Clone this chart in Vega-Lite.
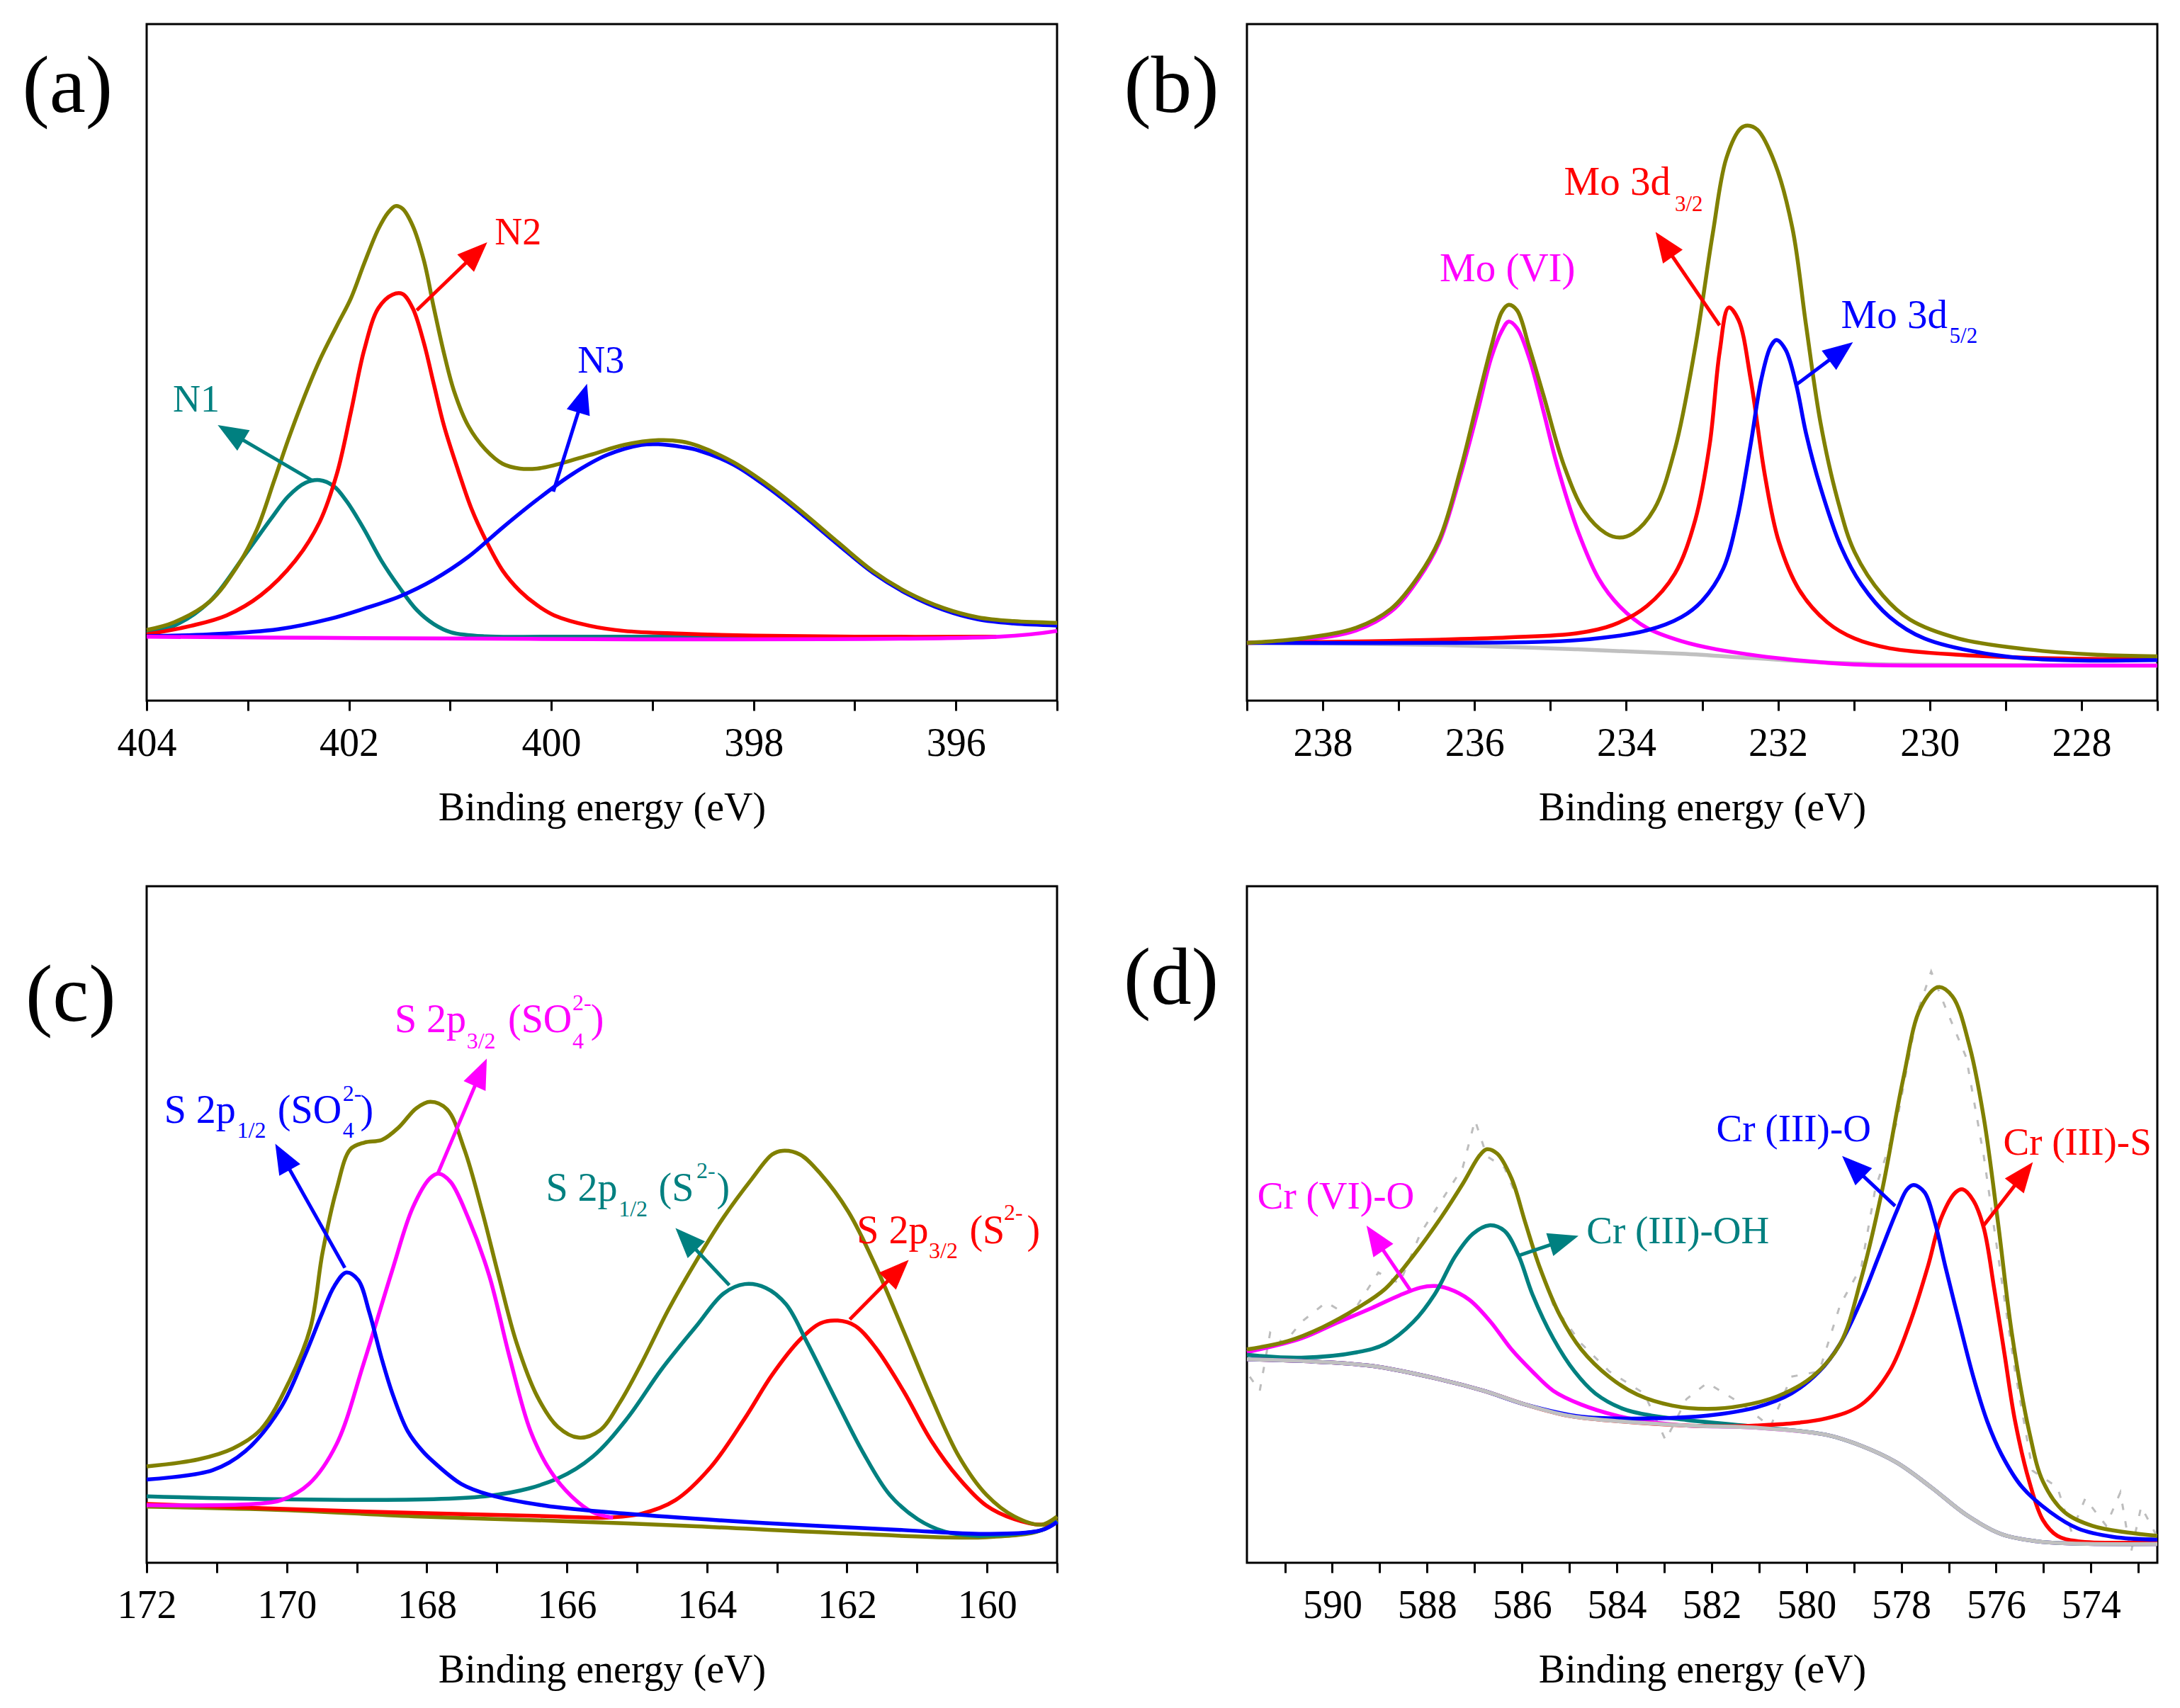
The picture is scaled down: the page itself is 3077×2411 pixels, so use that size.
{
  "$schema": "https://vega.github.io/schema/vega-lite/v6.json",
  "description": "XPS high-resolution spectra with peak fits: (a) N 1s, (b) Mo 3d, (c) S 2p, (d) Cr 2p.",
  "padding": {"left": 29, "top": 32, "right": 5, "bottom": 5},
  "background": "white",
  "bounds": "flush",
  "columns": 2,
  "spacing": {"row": 262, "column": 268},
  "resolve": {"scale": {"x": "independent", "y": "independent", "color": "independent"}},
  "datasets": {
    "a_lines": [
      {"series": "N1", "x": 404.0, "y": 10.0}, {"series": "N1", "x": 403.73, "y": 11.06}, {"series": "N1", "x": 403.38, "y": 14.6}, {"series": "N1", "x": 403.04, "y": 21.3},
      {"series": "N1", "x": 402.77, "y": 26.9}, {"series": "N1", "x": 402.6, "y": 30.2}, {"series": "N1", "x": 402.43, "y": 32.2}, {"series": "N1", "x": 402.29, "y": 32.6},
      {"series": "N1", "x": 402.15, "y": 31.7}, {"series": "N1", "x": 402.02, "y": 29.4}, {"series": "N1", "x": 401.85, "y": 25.3}, {"series": "N1", "x": 401.68, "y": 20.7},
      {"series": "N1", "x": 401.5, "y": 16.7}, {"series": "N1", "x": 401.33, "y": 13.4}, {"series": "N1", "x": 401.16, "y": 11.3}, {"series": "N1", "x": 400.99, "y": 10.1},
      {"series": "N1", "x": 400.65, "y": 9.5}, {"series": "N1", "x": 400.0, "y": 9.45}, {"series": "N1", "x": 397.0, "y": 9.45},
      {"series": "N2", "x": 404.0, "y": 9.79}, {"series": "N2", "x": 403.56, "y": 11.06}, {"series": "N2", "x": 403.21, "y": 12.6}, {"series": "N2", "x": 402.87, "y": 15.6},
      {"series": "N2", "x": 402.53, "y": 20.7}, {"series": "N2", "x": 402.29, "y": 26.4}, {"series": "N2", "x": 402.12, "y": 33.5}, {"series": "N2", "x": 401.98, "y": 42.7},
      {"series": "N2", "x": 401.85, "y": 51.8}, {"series": "N2", "x": 401.71, "y": 58.0}, {"series": "N2", "x": 401.57, "y": 60.0}, {"series": "N2", "x": 401.47, "y": 60.1},
      {"series": "N2", "x": 401.37, "y": 58.0}, {"series": "N2", "x": 401.26, "y": 52.9}, {"series": "N2", "x": 401.16, "y": 46.7}, {"series": "N2", "x": 401.06, "y": 40.6},
      {"series": "N2", "x": 400.92, "y": 34.0}, {"series": "N2", "x": 400.79, "y": 28.4}, {"series": "N2", "x": 400.65, "y": 23.8}, {"series": "N2", "x": 400.48, "y": 19.2},
      {"series": "N2", "x": 400.31, "y": 16.2}, {"series": "N2", "x": 400.14, "y": 14.1}, {"series": "N2", "x": 399.97, "y": 12.6}, {"series": "N2", "x": 399.62, "y": 11.06},
      {"series": "N2", "x": 399.28, "y": 10.3}, {"series": "N2", "x": 398.71, "y": 9.9}, {"series": "N2", "x": 398.0, "y": 9.6}, {"series": "N2", "x": 397.0, "y": 9.45}, {"series": "N2", "x": 395.6, "y": 9.45},
      {"series": "N3", "x": 404.0, "y": 9.53}, {"series": "N3", "x": 403.38, "y": 9.79}, {"series": "N3", "x": 402.7, "y": 10.55}, {"series": "N3", "x": 402.19, "y": 12.08},
      {"series": "N3", "x": 401.85, "y": 13.6}, {"series": "N3", "x": 401.5, "y": 15.4}, {"series": "N3", "x": 401.16, "y": 17.9}, {"series": "N3", "x": 400.82, "y": 21.25},
      {"series": "N3", "x": 400.48, "y": 25.6}, {"series": "N3", "x": 400.14, "y": 29.7}, {"series": "N3", "x": 399.79, "y": 33.5}, {"series": "N3", "x": 399.45, "y": 36.3},
      {"series": "N3", "x": 399.11, "y": 37.8}, {"series": "N3", "x": 398.94, "y": 37.9}, {"series": "N3", "x": 398.71, "y": 37.5}, {"series": "N3", "x": 398.55, "y": 37.0},
      {"series": "N3", "x": 398.2, "y": 34.9}, {"series": "N3", "x": 397.85, "y": 31.4}, {"series": "N3", "x": 397.51, "y": 27.4}, {"series": "N3", "x": 397.16, "y": 23.0},
      {"series": "N3", "x": 396.82, "y": 18.9}, {"series": "N3", "x": 396.47, "y": 15.7}, {"series": "N3", "x": 396.12, "y": 13.4}, {"series": "N3", "x": 395.78, "y": 12.0},
      {"series": "N3", "x": 395.43, "y": 11.4}, {"series": "N3", "x": 395.0, "y": 11.1},
      {"series": "Background", "x": 404.0, "y": 9.45}, {"series": "Background", "x": 395.57, "y": 9.45}, {"series": "Background", "x": 395.0, "y": 10.3},
      {"series": "Envelope", "x": 404.0, "y": 10.45}, {"series": "Envelope", "x": 403.73, "y": 11.57}, {"series": "Envelope", "x": 403.38, "y": 14.6}, {"series": "Envelope", "x": 403.11, "y": 19.7},
      {"series": "Envelope", "x": 402.91, "y": 25.3}, {"series": "Envelope", "x": 402.74, "y": 32.5}, {"series": "Envelope", "x": 402.6, "y": 38.6}, {"series": "Envelope", "x": 402.46, "y": 44.2},
      {"series": "Envelope", "x": 402.29, "y": 50.3}, {"series": "Envelope", "x": 402.12, "y": 55.4}, {"series": "Envelope", "x": 401.98, "y": 59.5}, {"series": "Envelope", "x": 401.85, "y": 64.6},
      {"series": "Envelope", "x": 401.71, "y": 69.7}, {"series": "Envelope", "x": 401.61, "y": 72.2}, {"series": "Envelope", "x": 401.54, "y": 73.1}, {"series": "Envelope", "x": 401.47, "y": 72.7},
      {"series": "Envelope", "x": 401.37, "y": 70.2}, {"series": "Envelope", "x": 401.26, "y": 65.1}, {"series": "Envelope", "x": 401.16, "y": 58.0}, {"series": "Envelope", "x": 401.06, "y": 51.3},
      {"series": "Envelope", "x": 400.96, "y": 45.7}, {"series": "Envelope", "x": 400.82, "y": 40.6}, {"series": "Envelope", "x": 400.65, "y": 37.1}, {"series": "Envelope", "x": 400.48, "y": 35.0},
      {"series": "Envelope", "x": 400.31, "y": 34.3}, {"series": "Envelope", "x": 400.14, "y": 34.3}, {"series": "Envelope", "x": 399.97, "y": 34.8}, {"series": "Envelope", "x": 399.62, "y": 36.3},
      {"series": "Envelope", "x": 399.28, "y": 37.8}, {"series": "Envelope", "x": 398.94, "y": 38.5}, {"series": "Envelope", "x": 398.71, "y": 38.3}, {"series": "Envelope", "x": 398.55, "y": 37.65},
      {"series": "Envelope", "x": 398.2, "y": 35.24}, {"series": "Envelope", "x": 397.85, "y": 31.78}, {"series": "Envelope", "x": 397.51, "y": 27.76}, {"series": "Envelope", "x": 397.16, "y": 23.33},
      {"series": "Envelope", "x": 396.82, "y": 19.15}, {"series": "Envelope", "x": 396.47, "y": 15.93}, {"series": "Envelope", "x": 396.12, "y": 13.68}, {"series": "Envelope", "x": 395.78, "y": 12.31},
      {"series": "Envelope", "x": 395.43, "y": 11.75}, {"series": "Envelope", "x": 395.0, "y": 11.5}
    ],
    "a_text": [
      {"series": "N1", "label": "N1", "x": 403.74, "y": 42.7},
      {"series": "N2", "label": "N2", "x": 400.56, "y": 67.4},
      {"series": "N3", "label": "N3", "x": 399.74, "y": 48.5}
    ],
    "a_arrows": [
      {"series": "N1", "x": 402.36, "y": 32.5, "x2": 403.17, "y2": 39.6},
      {"series": "N2", "x": 401.33, "y": 57.7, "x2": 400.74, "y2": 66.2},
      {"series": "N3", "x": 399.98, "y": 30.9, "x2": 399.69, "y2": 44.7}
    ],
    "a_heads": [
      {"series": "N1", "x": 403.17, "y": 39.6, "angle": 301},
      {"series": "N2", "x": 400.74, "y": 66.2, "angle": 46},
      {"series": "N3", "x": 399.69, "y": 44.7, "angle": 17}
    ],
    "a_tag": [{"label": "(a)", "x": 405.23, "y": 90.7}],

    "b_lines": [
      {"series": "Background", "x": 239.0, "y": 8.54}, {"series": "Background", "x": 236.46, "y": 8.22}, {"series": "Background", "x": 234.64, "y": 7.58}, {"series": "Background", "x": 233.27, "y": 6.94},
      {"series": "Background", "x": 232.36, "y": 6.3}, {"series": "Background", "x": 231.44, "y": 5.67}, {"series": "Background", "x": 230.53, "y": 5.35}, {"series": "Background", "x": 227.0, "y": 5.19},
      {"series": "Mo (VI)", "x": 239.0, "y": 8.54}, {"series": "Mo (VI)", "x": 238.29, "y": 8.94}, {"series": "Mo (VI)", "x": 237.56, "y": 10.38}, {"series": "Mo (VI)", "x": 237.1, "y": 13.17},
      {"series": "Mo (VI)", "x": 236.74, "y": 17.96}, {"series": "Mo (VI)", "x": 236.46, "y": 23.54}, {"series": "Mo (VI)", "x": 236.19, "y": 33.12}, {"series": "Mo (VI)", "x": 235.96, "y": 42.7},
      {"series": "Mo (VI)", "x": 235.78, "y": 50.68}, {"series": "Mo (VI)", "x": 235.64, "y": 54.67}, {"series": "Mo (VI)", "x": 235.55, "y": 56.03}, {"series": "Mo (VI)", "x": 235.44, "y": 55.07},
      {"series": "Mo (VI)", "x": 235.28, "y": 50.68}, {"series": "Mo (VI)", "x": 235.09, "y": 42.7}, {"series": "Mo (VI)", "x": 234.91, "y": 34.72}, {"series": "Mo (VI)", "x": 234.64, "y": 25.14},
      {"series": "Mo (VI)", "x": 234.36, "y": 17.96}, {"series": "Mo (VI)", "x": 234.09, "y": 13.97}, {"series": "Mo (VI)", "x": 233.73, "y": 10.77}, {"series": "Mo (VI)", "x": 233.27, "y": 8.78},
      {"series": "Mo (VI)", "x": 232.81, "y": 7.58}, {"series": "Mo (VI)", "x": 231.9, "y": 6.15}, {"series": "Mo (VI)", "x": 230.99, "y": 5.35}, {"series": "Mo (VI)", "x": 229.16, "y": 5.19},
      {"series": "Mo (VI)", "x": 227.0, "y": 5.19},
      {"series": "Mo 3d3/2", "x": 239.0, "y": 8.54}, {"series": "Mo 3d3/2", "x": 237.38, "y": 8.78}, {"series": "Mo 3d3/2", "x": 235.55, "y": 9.34}, {"series": "Mo 3d3/2", "x": 234.64, "y": 9.98},
      {"series": "Mo 3d3/2", "x": 234.18, "y": 11.17}, {"series": "Mo 3d3/2", "x": 233.73, "y": 13.97}, {"series": "Mo 3d3/2", "x": 233.36, "y": 18.76}, {"series": "Mo 3d3/2", "x": 233.09, "y": 26.74},
      {"series": "Mo 3d3/2", "x": 232.9, "y": 37.91}, {"series": "Mo 3d3/2", "x": 232.77, "y": 51.48}, {"series": "Mo 3d3/2", "x": 232.65, "y": 58.1}, {"series": "Mo 3d3/2", "x": 232.52, "y": 56.26},
      {"series": "Mo 3d3/2", "x": 232.36, "y": 47.49}, {"series": "Mo 3d3/2", "x": 232.17, "y": 33.12}, {"series": "Mo 3d3/2", "x": 231.99, "y": 23.54}, {"series": "Mo 3d3/2", "x": 231.72, "y": 16.36},
      {"series": "Mo 3d3/2", "x": 231.35, "y": 11.57}, {"series": "Mo 3d3/2", "x": 230.99, "y": 9.18}, {"series": "Mo 3d3/2", "x": 230.53, "y": 7.74}, {"series": "Mo 3d3/2", "x": 229.62, "y": 6.78},
      {"series": "Mo 3d3/2", "x": 228.25, "y": 6.22}, {"series": "Mo 3d3/2", "x": 227.0, "y": 6.15},
      {"series": "Mo 3d5/2", "x": 239.0, "y": 8.54}, {"series": "Mo 3d5/2", "x": 236.46, "y": 8.54}, {"series": "Mo 3d5/2", "x": 234.64, "y": 8.94}, {"series": "Mo 3d5/2", "x": 233.73, "y": 10.38},
      {"series": "Mo 3d5/2", "x": 233.27, "y": 12.37}, {"series": "Mo 3d5/2", "x": 233.0, "y": 14.76}, {"series": "Mo 3d5/2", "x": 232.72, "y": 19.55}, {"series": "Mo 3d5/2", "x": 232.54, "y": 26.74},
      {"series": "Mo 3d5/2", "x": 232.36, "y": 37.91}, {"series": "Mo 3d5/2", "x": 232.22, "y": 47.49}, {"series": "Mo 3d5/2", "x": 232.1, "y": 52.27}, {"series": "Mo 3d5/2", "x": 232.02, "y": 53.31},
      {"series": "Mo 3d5/2", "x": 231.9, "y": 51.88}, {"series": "Mo 3d5/2", "x": 231.76, "y": 46.69}, {"series": "Mo 3d5/2", "x": 231.63, "y": 39.5}, {"series": "Mo 3d5/2", "x": 231.44, "y": 31.52},
      {"series": "Mo 3d5/2", "x": 231.17, "y": 22.75}, {"series": "Mo 3d5/2", "x": 230.9, "y": 17.16}, {"series": "Mo 3d5/2", "x": 230.53, "y": 12.37}, {"series": "Mo 3d5/2", "x": 230.07, "y": 9.18},
      {"series": "Mo 3d5/2", "x": 229.16, "y": 6.78}, {"series": "Mo 3d5/2", "x": 228.25, "y": 5.99}, {"series": "Mo 3d5/2", "x": 227.0, "y": 5.99},
      {"series": "Envelope", "x": 239.0, "y": 8.54}, {"series": "Envelope", "x": 238.29, "y": 9.18}, {"series": "Envelope", "x": 237.56, "y": 10.77}, {"series": "Envelope", "x": 237.1, "y": 13.57},
      {"series": "Envelope", "x": 236.74, "y": 18.36}, {"series": "Envelope", "x": 236.46, "y": 23.94}, {"series": "Envelope", "x": 236.19, "y": 33.92}, {"series": "Envelope", "x": 235.96, "y": 44.29},
      {"series": "Envelope", "x": 235.78, "y": 52.27}, {"series": "Envelope", "x": 235.64, "y": 57.46}, {"series": "Envelope", "x": 235.55, "y": 58.5}, {"series": "Envelope", "x": 235.44, "y": 57.7},
      {"series": "Envelope", "x": 235.28, "y": 52.27}, {"series": "Envelope", "x": 235.09, "y": 45.09}, {"series": "Envelope", "x": 234.82, "y": 34.72}, {"series": "Envelope", "x": 234.55, "y": 27.93},
      {"series": "Envelope", "x": 234.27, "y": 24.74}, {"series": "Envelope", "x": 234.09, "y": 24.1}, {"series": "Envelope", "x": 233.91, "y": 24.74}, {"series": "Envelope", "x": 233.63, "y": 28.33},
      {"series": "Envelope", "x": 233.36, "y": 37.11}, {"series": "Envelope", "x": 233.09, "y": 52.27}, {"series": "Envelope", "x": 232.86, "y": 69.03}, {"series": "Envelope", "x": 232.68, "y": 80.21},
      {"series": "Envelope", "x": 232.49, "y": 84.6}, {"series": "Envelope", "x": 232.4, "y": 85.0}, {"series": "Envelope", "x": 232.27, "y": 84.36}, {"series": "Envelope", "x": 232.04, "y": 79.41},
      {"series": "Envelope", "x": 231.81, "y": 69.83}, {"series": "Envelope", "x": 231.63, "y": 55.47}, {"series": "Envelope", "x": 231.44, "y": 41.1}, {"series": "Envelope", "x": 231.22, "y": 29.93},
      {"series": "Envelope", "x": 230.99, "y": 21.95}, {"series": "Envelope", "x": 230.62, "y": 15.56}, {"series": "Envelope", "x": 230.26, "y": 11.97}, {"series": "Envelope", "x": 229.62, "y": 9.18},
      {"series": "Envelope", "x": 228.71, "y": 7.58}, {"series": "Envelope", "x": 227.79, "y": 6.78}, {"series": "Envelope", "x": 227.0, "y": 6.54}
    ],
    "b_text": [
      {"series": "Mo (VI)", "part": "main", "label": "Mo (VI)", "x": 236.46, "y": 62.0},
      {"series": "Mo 3d3/2", "part": "main", "label": "Mo 3d", "x": 234.82, "y": 74.78},
      {"series": "Mo 3d3/2", "part": "sub", "label": "3/2", "x": 233.36, "y": 72.39},
      {"series": "Mo 3d5/2", "part": "main", "label": "Mo 3d", "x": 231.17, "y": 55.07},
      {"series": "Mo 3d5/2", "part": "sub", "label": "5/2", "x": 229.74, "y": 52.91}
    ],
    "b_arrows": [
      {"series": "Mo 3d3/2", "x": 232.77, "y": 55.47, "x2": 233.5, "y2": 67.44},
      {"series": "Mo 3d5/2", "x": 231.76, "y": 46.69, "x2": 231.17, "y2": 51.64}
    ],
    "b_heads": [
      {"series": "Mo 3d3/2", "x": 233.5, "y": 67.44, "angle": 325},
      {"series": "Mo 3d5/2", "x": 231.17, "y": 51.64, "angle": 53}
    ],
    "b_tag": [{"label": "(b)", "x": 240.62, "y": 90.7}],

    "c_lines": [
      {"series": "Background", "x": 172.0, "y": 8.29}, {"series": "Background", "x": 170.08, "y": 7.8}, {"series": "Background", "x": 168.1, "y": 6.84}, {"series": "Background", "x": 166.13, "y": 6.19},
      {"series": "Background", "x": 164.15, "y": 5.39}, {"series": "Background", "x": 162.18, "y": 4.42}, {"series": "Background", "x": 160.01, "y": 3.78}, {"series": "Background", "x": 159.22, "y": 4.83},
      {"series": "Background", "x": 159.0, "y": 6.44},
      {"series": "S 2p3/2 (S)", "x": 172.0, "y": 8.69}, {"series": "S 2p3/2 (S)", "x": 169.09, "y": 7.64}, {"series": "S 2p3/2 (S)", "x": 166.13, "y": 6.84}, {"series": "S 2p3/2 (S)", "x": 165.44, "y": 6.68},
      {"series": "S 2p3/2 (S)", "x": 164.94, "y": 7.24}, {"series": "S 2p3/2 (S)", "x": 164.45, "y": 9.25}, {"series": "S 2p3/2 (S)", "x": 163.95, "y": 14.08}, {"series": "S 2p3/2 (S)", "x": 163.46, "y": 21.32},
      {"series": "S 2p3/2 (S)", "x": 163.07, "y": 27.76}, {"series": "S 2p3/2 (S)", "x": 162.67, "y": 32.98}, {"series": "S 2p3/2 (S)", "x": 162.38, "y": 35.4}, {"series": "S 2p3/2 (S)", "x": 162.13, "y": 35.8},
      {"series": "S 2p3/2 (S)", "x": 161.88, "y": 35.0}, {"series": "S 2p3/2 (S)", "x": 161.59, "y": 31.78}, {"series": "S 2p3/2 (S)", "x": 161.19, "y": 25.34}, {"series": "S 2p3/2 (S)", "x": 160.8, "y": 18.1},
      {"series": "S 2p3/2 (S)", "x": 160.4, "y": 12.47}, {"series": "S 2p3/2 (S)", "x": 160.01, "y": 8.45}, {"series": "S 2p3/2 (S)", "x": 159.61, "y": 6.44}, {"series": "S 2p3/2 (S)", "x": 159.22, "y": 5.63},
      {"series": "S 2p3/2 (S)", "x": 159.0, "y": 6.19},
      {"series": "S 2p1/2 (S)", "x": 172.0, "y": 9.82}, {"series": "S 2p1/2 (S)", "x": 167.11, "y": 9.9}, {"series": "S 2p1/2 (S)", "x": 166.13, "y": 12.47}, {"series": "S 2p1/2 (S)", "x": 165.63, "y": 15.69},
      {"series": "S 2p1/2 (S)", "x": 165.14, "y": 21.32}, {"series": "S 2p1/2 (S)", "x": 164.65, "y": 28.56}, {"series": "S 2p1/2 (S)", "x": 164.15, "y": 35.0}, {"series": "S 2p1/2 (S)", "x": 163.76, "y": 39.82},
      {"series": "S 2p1/2 (S)", "x": 163.46, "y": 41.19}, {"series": "S 2p1/2 (S)", "x": 163.16, "y": 40.63}, {"series": "S 2p1/2 (S)", "x": 162.87, "y": 38.21}, {"series": "S 2p1/2 (S)", "x": 162.57, "y": 32.58},
      {"series": "S 2p1/2 (S)", "x": 162.18, "y": 24.54}, {"series": "S 2p1/2 (S)", "x": 161.78, "y": 16.49}, {"series": "S 2p1/2 (S)", "x": 161.39, "y": 10.06}, {"series": "S 2p1/2 (S)", "x": 160.99, "y": 6.44},
      {"series": "S 2p1/2 (S)", "x": 160.6, "y": 4.59}, {"series": "S 2p1/2 (S)", "x": 160.2, "y": 4.02}, {"series": "S 2p1/2 (S)", "x": 160.01, "y": 4.02}, {"series": "S 2p1/2 (S)", "x": 159.22, "y": 4.83},
      {"series": "S 2p1/2 (S)", "x": 159.0, "y": 6.2},
      {"series": "S 2p3/2 (SO4)", "x": 172.0, "y": 8.5}, {"series": "S 2p3/2 (SO4)", "x": 170.47, "y": 8.69}, {"series": "S 2p3/2 (SO4)", "x": 170.08, "y": 9.25}, {"series": "S 2p3/2 (SO4)", "x": 169.68, "y": 11.67},
      {"series": "S 2p3/2 (SO4)", "x": 169.29, "y": 17.5}, {"series": "S 2p3/2 (SO4)", "x": 168.9, "y": 29.5}, {"series": "S 2p3/2 (SO4)", "x": 168.5, "y": 43.0}, {"series": "S 2p3/2 (SO4)", "x": 168.2, "y": 52.5},
      {"series": "S 2p3/2 (SO4)", "x": 167.95, "y": 56.88}, {"series": "S 2p3/2 (SO4)", "x": 167.83, "y": 57.52}, {"series": "S 2p3/2 (SO4)", "x": 167.66, "y": 56.3}, {"series": "S 2p3/2 (SO4)", "x": 167.41, "y": 51.0},
      {"series": "S 2p3/2 (SO4)", "x": 167.11, "y": 42.5}, {"series": "S 2p3/2 (SO4)", "x": 166.82, "y": 30.5}, {"series": "S 2p3/2 (SO4)", "x": 166.52, "y": 19.5}, {"series": "S 2p3/2 (SO4)", "x": 166.23, "y": 13.5},
      {"series": "S 2p3/2 (SO4)", "x": 165.93, "y": 9.8}, {"series": "S 2p3/2 (SO4)", "x": 165.63, "y": 7.48}, {"series": "S 2p3/2 (SO4)", "x": 165.34, "y": 6.68},
      {"series": "S 2p1/2 (SO4)", "x": 172.0, "y": 12.31}, {"series": "S 2p1/2 (SO4)", "x": 171.06, "y": 13.68}, {"series": "S 2p1/2 (SO4)", "x": 170.59, "y": 16.5}, {"series": "S 2p1/2 (SO4)", "x": 170.08, "y": 23.0},
      {"series": "S 2p1/2 (SO4)", "x": 169.75, "y": 30.4}, {"series": "S 2p1/2 (SO4)", "x": 169.49, "y": 37.0}, {"series": "S 2p1/2 (SO4)", "x": 169.32, "y": 40.9}, {"series": "S 2p1/2 (SO4)", "x": 169.15, "y": 42.9},
      {"series": "S 2p1/2 (SO4)", "x": 168.98, "y": 41.8}, {"series": "S 2p1/2 (SO4)", "x": 168.82, "y": 37.0}, {"series": "S 2p1/2 (SO4)", "x": 168.65, "y": 30.4}, {"series": "S 2p1/2 (SO4)", "x": 168.48, "y": 24.7},
      {"series": "S 2p1/2 (SO4)", "x": 168.27, "y": 19.4}, {"series": "S 2p1/2 (SO4)", "x": 168.06, "y": 16.5}, {"series": "S 2p1/2 (SO4)", "x": 167.9, "y": 14.88}, {"series": "S 2p1/2 (SO4)", "x": 167.51, "y": 11.67},
      {"series": "S 2p1/2 (SO4)", "x": 167.11, "y": 10.06}, {"series": "S 2p1/2 (SO4)", "x": 166.32, "y": 8.45}, {"series": "S 2p1/2 (SO4)", "x": 165.14, "y": 7.24}, {"series": "S 2p1/2 (SO4)", "x": 163.16, "y": 5.87},
      {"series": "S 2p1/2 (SO4)", "x": 161.19, "y": 4.83}, {"series": "S 2p1/2 (SO4)", "x": 160.01, "y": 4.26}, {"series": "S 2p1/2 (SO4)", "x": 159.22, "y": 4.83}, {"series": "S 2p1/2 (SO4)", "x": 159.0, "y": 6.03},
      {"series": "Envelope", "x": 172.0, "y": 14.24}, {"series": "Envelope", "x": 171.26, "y": 15.29}, {"series": "Envelope", "x": 170.77, "y": 16.89}, {"series": "Envelope", "x": 170.37, "y": 19.71},
      {"series": "Envelope", "x": 169.96, "y": 26.9}, {"series": "Envelope", "x": 169.66, "y": 34.8}, {"series": "Envelope", "x": 169.49, "y": 45.75}, {"series": "Envelope", "x": 169.29, "y": 55.11},
      {"series": "Envelope", "x": 169.09, "y": 61.14}, {"series": "Envelope", "x": 168.89, "y": 62.11}, {"series": "Envelope", "x": 168.64, "y": 62.51}, {"series": "Envelope", "x": 168.4, "y": 64.36},
      {"series": "Envelope", "x": 168.15, "y": 67.18}, {"series": "Envelope", "x": 167.95, "y": 68.14}, {"series": "Envelope", "x": 167.71, "y": 67.02}, {"series": "Envelope", "x": 167.46, "y": 61.0},
      {"series": "Envelope", "x": 167.21, "y": 52.0}, {"series": "Envelope", "x": 166.97, "y": 42.24}, {"series": "Envelope", "x": 166.72, "y": 32.58}, {"series": "Envelope", "x": 166.42, "y": 24.54},
      {"series": "Envelope", "x": 166.13, "y": 20.11}, {"series": "Envelope", "x": 165.83, "y": 18.5}, {"series": "Envelope", "x": 165.53, "y": 19.55}, {"series": "Envelope", "x": 165.24, "y": 23.73},
      {"series": "Envelope", "x": 164.94, "y": 29.36}, {"series": "Envelope", "x": 164.55, "y": 37.41}, {"series": "Envelope", "x": 164.15, "y": 44.65}, {"series": "Envelope", "x": 163.76, "y": 51.09},
      {"series": "Envelope", "x": 163.36, "y": 56.72}, {"series": "Envelope", "x": 163.07, "y": 60.34}, {"series": "Envelope", "x": 162.92, "y": 60.9}, {"series": "Envelope", "x": 162.67, "y": 60.34},
      {"series": "Envelope", "x": 162.38, "y": 57.52}, {"series": "Envelope", "x": 161.98, "y": 51.89}, {"series": "Envelope", "x": 161.59, "y": 43.85}, {"series": "Envelope", "x": 161.19, "y": 34.19},
      {"series": "Envelope", "x": 160.8, "y": 24.54}, {"series": "Envelope", "x": 160.4, "y": 15.69}, {"series": "Envelope", "x": 160.01, "y": 10.06}, {"series": "Envelope", "x": 159.61, "y": 6.84},
      {"series": "Envelope", "x": 159.22, "y": 5.63}, {"series": "Envelope", "x": 159.0, "y": 6.84}
    ],
    "c_text": [
      {"series": "S 2p1/2 (SO4)", "part": "main", "label": "S 2p", "x": 171.75, "y": 65.0},
      {"series": "S 2p1/2 (SO4)", "part": "sub", "label": "1/2", "x": 170.71, "y": 62.85},
      {"series": "S 2p1/2 (SO4)", "part": "main", "label": "(SO", "x": 170.13, "y": 65.0},
      {"series": "S 2p1/2 (SO4)", "part": "sub", "label": "4", "x": 169.2, "y": 62.85},
      {"series": "S 2p1/2 (SO4)", "part": "sub", "label": "2-", "x": 169.2, "y": 68.3},
      {"series": "S 2p1/2 (SO4)", "part": "main", "label": ")", "x": 168.95, "y": 65.0},
      {"series": "S 2p3/2 (SO4)", "part": "main", "label": "S 2p", "x": 168.46, "y": 78.4},
      {"series": "S 2p3/2 (SO4)", "part": "sub", "label": "3/2", "x": 167.43, "y": 76.0},
      {"series": "S 2p3/2 (SO4)", "part": "main", "label": "(SO", "x": 166.84, "y": 78.4},
      {"series": "S 2p3/2 (SO4)", "part": "sub", "label": "4", "x": 165.92, "y": 76.0},
      {"series": "S 2p3/2 (SO4)", "part": "sub", "label": "2-", "x": 165.92, "y": 81.7},
      {"series": "S 2p3/2 (SO4)", "part": "main", "label": ")", "x": 165.66, "y": 78.4},
      {"series": "S 2p1/2 (S)", "part": "main", "label": "S 2p", "x": 166.3, "y": 53.5},
      {"series": "S 2p1/2 (S)", "part": "sub", "label": "1/2", "x": 165.26, "y": 51.25},
      {"series": "S 2p1/2 (S)", "part": "main", "label": "(S", "x": 164.69, "y": 53.5},
      {"series": "S 2p1/2 (S)", "part": "sub", "label": "2-", "x": 164.15, "y": 56.88},
      {"series": "S 2p1/2 (S)", "part": "main", "label": ")", "x": 163.86, "y": 53.5},
      {"series": "S 2p3/2 (S)", "part": "main", "label": "S 2p", "x": 161.86, "y": 47.22},
      {"series": "S 2p3/2 (S)", "part": "sub", "label": "3/2", "x": 160.83, "y": 45.05},
      {"series": "S 2p3/2 (S)", "part": "main", "label": "(S", "x": 160.25, "y": 47.22},
      {"series": "S 2p3/2 (S)", "part": "sub", "label": "2-", "x": 159.76, "y": 50.68},
      {"series": "S 2p3/2 (S)", "part": "main", "label": ")", "x": 159.43, "y": 47.22}
    ],
    "c_arrows": [
      {"series": "S 2p1/2 (SO4)", "x": 169.17, "y": 43.6, "x2": 170.06, "y2": 60.0},
      {"series": "S 2p3/2 (SO4)", "x": 167.84, "y": 57.6, "x2": 167.23, "y2": 72.5},
      {"series": "S 2p1/2 (S)", "x": 163.68, "y": 41.03, "x2": 164.3, "y2": 47.87},
      {"series": "S 2p3/2 (S)", "x": 161.96, "y": 35.96, "x2": 161.27, "y2": 43.2}
    ],
    "c_heads": [
      {"series": "S 2p1/2 (SO4)", "x": 170.06, "y": 60.0, "angle": 331},
      {"series": "S 2p3/2 (SO4)", "x": 167.23, "y": 72.5, "angle": 24},
      {"series": "S 2p1/2 (S)", "x": 164.3, "y": 47.87, "angle": 316},
      {"series": "S 2p3/2 (S)", "x": 161.27, "y": 43.2, "angle": 45}
    ],
    "c_tag": [{"label": "(c)", "x": 173.73, "y": 83.8}],

    "d_raw": [
      {"x": 591.74, "y": 27.5}, {"x": 591.53, "y": 25.4}, {"x": 591.31, "y": 34.0}, {"x": 591.02, "y": 32.4}, {"x": 590.65, "y": 35.6},
      {"x": 590.13, "y": 38.5}, {"x": 589.62, "y": 36.4}, {"x": 589.03, "y": 42.9}, {"x": 588.58, "y": 41.3}, {"x": 588.14, "y": 48.7},
      {"x": 587.7, "y": 53.5}, {"x": 587.25, "y": 58.4}, {"x": 586.99, "y": 65.4}, {"x": 586.74, "y": 60.1}, {"x": 586.37, "y": 58.4},
      {"x": 586.07, "y": 53.5}, {"x": 585.78, "y": 47.0}, {"x": 585.34, "y": 38.1}, {"x": 584.75, "y": 32.4}, {"x": 584.16, "y": 28.3},
      {"x": 583.42, "y": 25.0}, {"x": 582.97, "y": 18.1}, {"x": 582.53, "y": 24.2}, {"x": 582.09, "y": 26.6}, {"x": 581.35, "y": 23.4},
      {"x": 580.76, "y": 20.1}, {"x": 580.32, "y": 27.5}, {"x": 579.73, "y": 28.3}, {"x": 579.29, "y": 38.1}, {"x": 578.84, "y": 43.8},
      {"x": 578.55, "y": 55.2}, {"x": 578.1, "y": 65.0}, {"x": 577.66, "y": 81.3}, {"x": 577.37, "y": 87.4}, {"x": 577.07, "y": 82.1},
      {"x": 576.63, "y": 74.7}, {"x": 576.26, "y": 60.1}, {"x": 575.89, "y": 42.1}, {"x": 575.6, "y": 28.3}, {"x": 575.23, "y": 13.6},
      {"x": 574.71, "y": 11.2}, {"x": 574.41, "y": 4.6}, {"x": 574.12, "y": 9.5}, {"x": 573.68, "y": 5.5}, {"x": 573.38, "y": 10.4},
      {"x": 573.16, "y": 1.4}, {"x": 572.94, "y": 8.3}, {"x": 572.6, "y": 3.8}
    ],
    "d_lines": [
      {"series": "Cr (VI)-O", "x": 591.8, "y": 31.13}, {"series": "Cr (VI)-O", "x": 590.65, "y": 33.17}, {"series": "Cr (VI)-O", "x": 589.91, "y": 35.45}, {"series": "Cr (VI)-O", "x": 589.17, "y": 37.65},
      {"series": "Cr (VI)-O", "x": 588.58, "y": 39.53}, {"series": "Cr (VI)-O", "x": 588.14, "y": 40.67}, {"series": "Cr (VI)-O", "x": 587.84, "y": 40.91}, {"series": "Cr (VI)-O", "x": 587.55, "y": 40.51},
      {"series": "Cr (VI)-O", "x": 587.11, "y": 38.88}, {"series": "Cr (VI)-O", "x": 586.66, "y": 35.61}, {"series": "Cr (VI)-O", "x": 586.22, "y": 31.54}, {"series": "Cr (VI)-O", "x": 585.78, "y": 28.28},
      {"series": "Cr (VI)-O", "x": 585.34, "y": 25.43}, {"series": "Cr (VI)-O", "x": 584.75, "y": 23.39}, {"series": "Cr (VI)-O", "x": 584.01, "y": 21.76}, {"series": "Cr (VI)-O", "x": 583.27, "y": 20.78},
      {"series": "Cr (VI)-O", "x": 582.53, "y": 20.29}, {"series": "Cr (VI)-O", "x": 581.06, "y": 19.97}, {"series": "Cr (VI)-O", "x": 579.58, "y": 18.91}, {"series": "Cr (VI)-O", "x": 578.84, "y": 17.28},
      {"series": "Cr (VI)-O", "x": 578.1, "y": 14.83}, {"series": "Cr (VI)-O", "x": 577.37, "y": 11.17}, {"series": "Cr (VI)-O", "x": 576.63, "y": 7.09}, {"series": "Cr (VI)-O", "x": 575.89, "y": 4.24},
      {"series": "Cr (VI)-O", "x": 575.15, "y": 3.18}, {"series": "Cr (VI)-O", "x": 574.41, "y": 2.85}, {"series": "Cr (VI)-O", "x": 572.6, "y": 2.77},
      {"series": "Cr (III)-OH", "x": 591.8, "y": 30.73}, {"series": "Cr (III)-OH", "x": 590.65, "y": 30.32}, {"series": "Cr (III)-OH", "x": 589.47, "y": 31.13}, {"series": "Cr (III)-OH", "x": 588.88, "y": 32.36},
      {"series": "Cr (III)-OH", "x": 588.29, "y": 35.61}, {"series": "Cr (III)-OH", "x": 587.84, "y": 39.69}, {"series": "Cr (III)-OH", "x": 587.4, "y": 45.4}, {"series": "Cr (III)-OH", "x": 587.03, "y": 48.66},
      {"series": "Cr (III)-OH", "x": 586.69, "y": 49.88}, {"series": "Cr (III)-OH", "x": 586.37, "y": 49.06}, {"series": "Cr (III)-OH", "x": 586.07, "y": 45.4}, {"series": "Cr (III)-OH", "x": 585.78, "y": 39.69},
      {"series": "Cr (III)-OH", "x": 585.34, "y": 33.17}, {"series": "Cr (III)-OH", "x": 584.89, "y": 28.28}, {"series": "Cr (III)-OH", "x": 584.45, "y": 25.02}, {"series": "Cr (III)-OH", "x": 583.86, "y": 22.74},
      {"series": "Cr (III)-OH", "x": 583.27, "y": 21.76}, {"series": "Cr (III)-OH", "x": 582.53, "y": 21.11}, {"series": "Cr (III)-OH", "x": 581.06, "y": 20.1}, {"series": "Cr (III)-OH", "x": 579.58, "y": 18.91},
      {"series": "Cr (III)-OH", "x": 578.84, "y": 17.28}, {"series": "Cr (III)-OH", "x": 578.1, "y": 14.83}, {"series": "Cr (III)-OH", "x": 577.37, "y": 11.17}, {"series": "Cr (III)-OH", "x": 576.63, "y": 7.09},
      {"series": "Cr (III)-OH", "x": 575.89, "y": 4.24}, {"series": "Cr (III)-OH", "x": 575.15, "y": 3.18}, {"series": "Cr (III)-OH", "x": 574.41, "y": 2.85}, {"series": "Cr (III)-OH", "x": 572.6, "y": 2.77},
      {"series": "Cr (III)-S", "x": 591.8, "y": 30.07}, {"series": "Cr (III)-S", "x": 590.65, "y": 29.83}, {"series": "Cr (III)-S", "x": 589.17, "y": 29.1}, {"series": "Cr (III)-S", "x": 587.7, "y": 27.06},
      {"series": "Cr (III)-S", "x": 586.81, "y": 25.43}, {"series": "Cr (III)-S", "x": 585.93, "y": 23.39}, {"series": "Cr (III)-S", "x": 585.04, "y": 21.76},
      {"series": "Cr (III)-S", "x": 584.01, "y": 20.95}, {"series": "Cr (III)-S", "x": 582.53, "y": 20.29}, {"series": "Cr (III)-S", "x": 581.06, "y": 20.29}, {"series": "Cr (III)-S", "x": 579.58, "y": 21.35},
      {"series": "Cr (III)-S", "x": 578.84, "y": 23.39}, {"series": "Cr (III)-S", "x": 578.25, "y": 28.28}, {"series": "Cr (III)-S", "x": 577.81, "y": 35.61}, {"series": "Cr (III)-S", "x": 577.44, "y": 43.77},
      {"series": "Cr (III)-S", "x": 577.15, "y": 51.1}, {"series": "Cr (III)-S", "x": 576.85, "y": 54.77}, {"series": "Cr (III)-S", "x": 576.7, "y": 55.18}, {"series": "Cr (III)-S", "x": 576.48, "y": 53.55},
      {"series": "Cr (III)-S", "x": 576.26, "y": 49.47}, {"series": "Cr (III)-S", "x": 576.04, "y": 40.51}, {"series": "Cr (III)-S", "x": 575.82, "y": 30.73}, {"series": "Cr (III)-S", "x": 575.6, "y": 20.95},
      {"series": "Cr (III)-S", "x": 575.3, "y": 11.98}, {"series": "Cr (III)-S", "x": 575.01, "y": 6.28}, {"series": "Cr (III)-S", "x": 574.71, "y": 3.99}, {"series": "Cr (III)-S", "x": 574.27, "y": 3.18},
      {"series": "Cr (III)-S", "x": 572.6, "y": 3.02},
      {"series": "Cr (III)-O", "x": 591.8, "y": 30.07}, {"series": "Cr (III)-O", "x": 590.65, "y": 29.83}, {"series": "Cr (III)-O", "x": 589.17, "y": 29.1}, {"series": "Cr (III)-O", "x": 587.7, "y": 27.06},
      {"series": "Cr (III)-O", "x": 586.81, "y": 25.43}, {"series": "Cr (III)-O", "x": 585.93, "y": 23.39}, {"series": "Cr (III)-O", "x": 584.75, "y": 21.6}, {"series": "Cr (III)-O", "x": 583.27, "y": 21.35},
      {"series": "Cr (III)-O", "x": 582.09, "y": 21.76}, {"series": "Cr (III)-O", "x": 581.06, "y": 22.98}, {"series": "Cr (III)-O", "x": 580.32, "y": 25.02}, {"series": "Cr (III)-O", "x": 579.73, "y": 28.28},
      {"series": "Cr (III)-O", "x": 579.29, "y": 32.36}, {"series": "Cr (III)-O", "x": 578.84, "y": 38.88}, {"series": "Cr (III)-O", "x": 578.47, "y": 45.4}, {"series": "Cr (III)-O", "x": 578.1, "y": 51.91},
      {"series": "Cr (III)-O", "x": 577.88, "y": 55.18}, {"series": "Cr (III)-O", "x": 577.74, "y": 55.83}, {"series": "Cr (III)-O", "x": 577.51, "y": 54.77}, {"series": "Cr (III)-O", "x": 577.29, "y": 50.29},
      {"series": "Cr (III)-O", "x": 577.07, "y": 43.77}, {"series": "Cr (III)-O", "x": 576.78, "y": 35.61}, {"series": "Cr (III)-O", "x": 576.48, "y": 27.47}, {"series": "Cr (III)-O", "x": 576.19, "y": 20.95},
      {"series": "Cr (III)-O", "x": 575.89, "y": 16.06}, {"series": "Cr (III)-O", "x": 575.45, "y": 11.17}, {"series": "Cr (III)-O", "x": 574.86, "y": 7.5}, {"series": "Cr (III)-O", "x": 574.27, "y": 5.05},
      {"series": "Cr (III)-O", "x": 573.53, "y": 3.83}, {"series": "Cr (III)-O", "x": 572.6, "y": 3.42},
      {"series": "Background", "x": 591.8, "y": 30.07}, {"series": "Background", "x": 590.65, "y": 29.83}, {"series": "Background", "x": 589.17, "y": 29.1}, {"series": "Background", "x": 587.7, "y": 27.06},
      {"series": "Background", "x": 586.81, "y": 25.43}, {"series": "Background", "x": 585.93, "y": 23.39}, {"series": "Background", "x": 585.04, "y": 21.76}, {"series": "Background", "x": 584.01, "y": 20.95},
      {"series": "Background", "x": 582.53, "y": 20.29}, {"series": "Background", "x": 581.06, "y": 19.97}, {"series": "Background", "x": 579.58, "y": 18.91}, {"series": "Background", "x": 578.84, "y": 17.28},
      {"series": "Background", "x": 578.1, "y": 14.83}, {"series": "Background", "x": 577.37, "y": 11.17}, {"series": "Background", "x": 576.63, "y": 7.09}, {"series": "Background", "x": 575.89, "y": 4.24},
      {"series": "Background", "x": 575.15, "y": 3.18}, {"series": "Background", "x": 574.41, "y": 2.85}, {"series": "Background", "x": 572.6, "y": 2.77},
      {"series": "Envelope", "x": 591.8, "y": 31.54}, {"series": "Envelope", "x": 590.94, "y": 32.76}, {"series": "Envelope", "x": 590.21, "y": 34.8}, {"series": "Envelope", "x": 589.47, "y": 37.65},
      {"series": "Envelope", "x": 588.88, "y": 40.51}, {"series": "Envelope", "x": 588.29, "y": 45.4}, {"series": "Envelope", "x": 587.7, "y": 51.1}, {"series": "Envelope", "x": 587.25, "y": 55.99},
      {"series": "Envelope", "x": 586.89, "y": 60.23}, {"series": "Envelope", "x": 586.74, "y": 61.12}, {"series": "Envelope", "x": 586.52, "y": 60.47}, {"series": "Envelope", "x": 586.22, "y": 56.81},
      {"series": "Envelope", "x": 585.93, "y": 50.29}, {"series": "Envelope", "x": 585.63, "y": 43.77}, {"series": "Envelope", "x": 585.19, "y": 36.43}, {"series": "Envelope", "x": 584.75, "y": 31.54},
      {"series": "Envelope", "x": 584.16, "y": 27.47}, {"series": "Envelope", "x": 583.57, "y": 24.86}, {"series": "Envelope", "x": 582.83, "y": 23.23}, {"series": "Envelope", "x": 582.09, "y": 22.74},
      {"series": "Envelope", "x": 581.35, "y": 23.23}, {"series": "Envelope", "x": 580.61, "y": 24.61}, {"series": "Envelope", "x": 579.88, "y": 27.47}, {"series": "Envelope", "x": 579.29, "y": 32.36},
      {"series": "Envelope", "x": 578.84, "y": 42.14}, {"series": "Envelope", "x": 578.4, "y": 55.18}, {"series": "Envelope", "x": 577.96, "y": 71.48}, {"series": "Envelope", "x": 577.59, "y": 82.07},
      {"series": "Envelope", "x": 577.22, "y": 85.09}, {"series": "Envelope", "x": 576.92, "y": 83.7}, {"series": "Envelope", "x": 576.56, "y": 76.37}, {"series": "Envelope", "x": 576.26, "y": 65.77},
      {"series": "Envelope", "x": 575.96, "y": 50.29}, {"series": "Envelope", "x": 575.67, "y": 33.99}, {"series": "Envelope", "x": 575.3, "y": 19.32}, {"series": "Envelope", "x": 575.01, "y": 11.98},
      {"series": "Envelope", "x": 574.56, "y": 7.5}, {"series": "Envelope", "x": 573.97, "y": 5.46}, {"series": "Envelope", "x": 573.23, "y": 4.48}, {"series": "Envelope", "x": 572.6, "y": 3.99}
    ],
    "d_text": [
      {"series": "Cr (VI)-O", "label": "Cr (VI)-O", "x": 591.58, "y": 52.32},
      {"series": "Cr (III)-OH", "label": "Cr (III)-OH", "x": 584.64, "y": 47.19},
      {"series": "Cr (III)-O", "label": "Cr (III)-O", "x": 581.9, "y": 62.27},
      {"series": "Cr (III)-S", "label": "Cr (III)-S", "x": 575.85, "y": 60.31}
    ],
    "d_arrows": [
      {"series": "Cr (VI)-O", "x": 588.36, "y": 40.34, "x2": 589.1, "y2": 48.0},
      {"series": "Cr (III)-OH", "x": 586.07, "y": 45.4, "x2": 585.11, "y2": 47.68},
      {"series": "Cr (III)-O", "x": 578.13, "y": 52.73, "x2": 579.02, "y2": 58.6},
      {"series": "Cr (III)-S", "x": 576.26, "y": 49.88, "x2": 575.42, "y2": 57.46}
    ],
    "d_heads": [
      {"series": "Cr (VI)-O", "x": 589.1, "y": 48.0, "angle": 326},
      {"series": "Cr (III)-OH", "x": 585.11, "y": 47.68, "angle": 73},
      {"series": "Cr (III)-O", "x": 579.02, "y": 58.6, "angle": 314},
      {"series": "Cr (III)-S", "x": 575.42, "y": 57.46, "angle": 38}
    ],
    "d_tag": [{"label": "(d)", "x": 594.4, "y": 86.3}]
  },
  "concat": [
    {
      "width": 1285,
      "height": 955,
      "encoding": {
        "x": {"field": "x", "type": "quantitative", "scale": {"domain": [395, 404], "reverse": true, "nice": false, "zero": false},
          "axis": {"title": "Binding energy (eV)", "values": [395, 396, 397, 398, 399, 400, 401, 402, 403, 404], "labelExpr": "datum.value % 2 === 0 ? datum.label : ''"}},
        "y": {"field": "y", "type": "quantitative", "scale": {"domain": [0, 100], "nice": false, "zero": false}, "axis": null},
        "color": {"field": "series", "type": "nominal", "legend": null,
          "scale": {"domain": ["Background", "N1", "N2", "N3", "Envelope"], "range": ["#ff00ff", "#008080", "#ff0000", "#0000ff", "#808000"]}}
      },
      "layer": [
        {"data": {"name": "a_lines"}, "mark": {"type": "line", "interpolate": "catmull-rom", "strokeWidth": 5.5},
          "encoding": {"order": {"field": "x", "type": "quantitative", "sort": "descending"}}},
        {"data": {"name": "a_arrows"}, "mark": {"type": "rule", "strokeWidth": 5},
          "encoding": {"x2": {"field": "x2"}, "y2": {"field": "y2"}}},
        {"data": {"name": "a_heads"}, "mark": {"type": "point", "shape": "M0,-1L-0.8,1L0.8,1Z", "filled": true, "size": 1800, "opacity": 1},
          "encoding": {"angle": {"field": "angle", "type": "quantitative", "scale": null}}},
        {"data": {"name": "a_text"}, "mark": {"type": "text", "align": "left", "baseline": "alphabetic", "fontSize": 54},
          "encoding": {"text": {"field": "label"}}},
        {"data": {"name": "a_tag"}, "mark": {"type": "text", "align": "left", "baseline": "middle", "fontSize": 115},
          "encoding": {"text": {"field": "label"}, "color": {"value": "black"}}}
      ]
    },
    {
      "width": 1285,
      "height": 955,
      "encoding": {
        "x": {"field": "x", "type": "quantitative", "scale": {"domain": [227, 239], "reverse": true, "nice": false, "zero": false},
          "axis": {"title": "Binding energy (eV)", "values": [227, 228, 229, 230, 231, 232, 233, 234, 235, 236, 237, 238, 239], "labelExpr": "datum.value % 2 === 0 ? datum.label : ''"}},
        "y": {"field": "y", "type": "quantitative", "scale": {"domain": [0, 100], "nice": false, "zero": false}, "axis": null},
        "color": {"field": "series", "type": "nominal", "legend": null,
          "scale": {"domain": ["Background", "Mo (VI)", "Mo 3d3/2", "Mo 3d5/2", "Envelope"], "range": ["#c0c0c0", "#ff00ff", "#ff0000", "#0000ff", "#808000"]}}
      },
      "layer": [
        {"data": {"name": "b_lines"}, "mark": {"type": "line", "interpolate": "catmull-rom", "strokeWidth": 5.5},
          "encoding": {"order": {"field": "x", "type": "quantitative", "sort": "descending"}}},
        {"data": {"name": "b_arrows"}, "mark": {"type": "rule", "strokeWidth": 5},
          "encoding": {"x2": {"field": "x2"}, "y2": {"field": "y2"}}},
        {"data": {"name": "b_heads"}, "mark": {"type": "point", "shape": "M0,-1L-0.8,1L0.8,1Z", "filled": true, "size": 1800, "opacity": 1},
          "encoding": {"angle": {"field": "angle", "type": "quantitative", "scale": null}}},
        {"data": {"name": "b_text"}, "transform": [{"filter": "datum.part === 'main'"}],
          "mark": {"type": "text", "align": "left", "baseline": "alphabetic", "fontSize": 57},
          "encoding": {"text": {"field": "label"}}},
        {"data": {"name": "b_text"}, "transform": [{"filter": "datum.part === 'sub'"}],
          "mark": {"type": "text", "align": "left", "baseline": "alphabetic", "fontSize": 31},
          "encoding": {"text": {"field": "label"}}},
        {"data": {"name": "b_tag"}, "mark": {"type": "text", "align": "left", "baseline": "middle", "fontSize": 115},
          "encoding": {"text": {"field": "label"}, "color": {"value": "black"}}}
      ]
    },
    {
      "width": 1285,
      "height": 955,
      "encoding": {
        "x": {"field": "x", "type": "quantitative", "scale": {"domain": [159, 172], "reverse": true, "nice": false, "zero": false},
          "axis": {"title": "Binding energy (eV)", "values": [159, 160, 161, 162, 163, 164, 165, 166, 167, 168, 169, 170, 171, 172], "labelExpr": "datum.value % 2 === 0 ? datum.label : ''"}},
        "y": {"field": "y", "type": "quantitative", "scale": {"domain": [0, 100], "nice": false, "zero": false}, "axis": null},
        "color": {"field": "series", "type": "nominal", "legend": null,
          "scale": {"domain": ["Background", "S 2p3/2 (S)", "S 2p1/2 (S)", "S 2p3/2 (SO4)", "S 2p1/2 (SO4)", "Envelope"], "range": ["#808000", "#ff0000", "#008080", "#ff00ff", "#0000ff", "#808000"]}}
      },
      "layer": [
        {"data": {"name": "c_lines"}, "mark": {"type": "line", "interpolate": "catmull-rom", "strokeWidth": 5.5},
          "encoding": {"order": {"field": "x", "type": "quantitative", "sort": "descending"}}},
        {"data": {"name": "c_arrows"}, "mark": {"type": "rule", "strokeWidth": 5},
          "encoding": {"x2": {"field": "x2"}, "y2": {"field": "y2"}}},
        {"data": {"name": "c_heads"}, "mark": {"type": "point", "shape": "M0,-1L-0.8,1L0.8,1Z", "filled": true, "size": 1800, "opacity": 1},
          "encoding": {"angle": {"field": "angle", "type": "quantitative", "scale": null}}},
        {"data": {"name": "c_text"}, "transform": [{"filter": "datum.part === 'main'"}],
          "mark": {"type": "text", "align": "left", "baseline": "alphabetic", "fontSize": 56},
          "encoding": {"text": {"field": "label"}}},
        {"data": {"name": "c_text"}, "transform": [{"filter": "datum.part === 'sub'"}],
          "mark": {"type": "text", "align": "left", "baseline": "alphabetic", "fontSize": 32},
          "encoding": {"text": {"field": "label"}}},
        {"data": {"name": "c_tag"}, "mark": {"type": "text", "align": "left", "baseline": "middle", "fontSize": 115},
          "encoding": {"text": {"field": "label"}, "color": {"value": "black"}}}
      ]
    },
    {
      "width": 1285,
      "height": 955,
      "encoding": {
        "x": {"field": "x", "type": "quantitative", "scale": {"domain": [572.6, 591.8], "reverse": true, "nice": false, "zero": false},
          "axis": {"title": "Binding energy (eV)", "values": [573, 574, 575, 576, 577, 578, 579, 580, 581, 582, 583, 584, 585, 586, 587, 588, 589, 590, 591], "labelExpr": "datum.value % 2 === 0 ? datum.label : ''"}},
        "y": {"field": "y", "type": "quantitative", "scale": {"domain": [0, 100], "nice": false, "zero": false}, "axis": null},
        "color": {"field": "series", "type": "nominal", "legend": null,
          "scale": {"domain": ["Background", "Cr (VI)-O", "Cr (III)-OH", "Cr (III)-S", "Cr (III)-O", "Envelope"], "range": ["#c0c0c0", "#ff00ff", "#008080", "#ff0000", "#0000ff", "#808000"]}}
      },
      "layer": [
        {"data": {"name": "d_raw"}, "mark": {"type": "line", "strokeWidth": 3, "strokeDash": [9, 16], "color": "#bdbdbd"},
          "encoding": {"color": {"value": "#bdbdbd"}, "order": {"field": "x", "type": "quantitative", "sort": "descending"}}},
        {"data": {"name": "d_lines"}, "mark": {"type": "line", "interpolate": "catmull-rom", "strokeWidth": 5.5},
          "encoding": {"order": {"field": "x", "type": "quantitative", "sort": "descending"}}},
        {"data": {"name": "d_arrows"}, "mark": {"type": "rule", "strokeWidth": 5},
          "encoding": {"x2": {"field": "x2"}, "y2": {"field": "y2"}}},
        {"data": {"name": "d_heads"}, "mark": {"type": "point", "shape": "M0,-1L-0.8,1L0.8,1Z", "filled": true, "size": 1800, "opacity": 1},
          "encoding": {"angle": {"field": "angle", "type": "quantitative", "scale": null}}},
        {"data": {"name": "d_text"}, "mark": {"type": "text", "align": "left", "baseline": "alphabetic", "fontSize": 55},
          "encoding": {"text": {"field": "label"}}},
        {"data": {"name": "d_tag"}, "mark": {"type": "text", "align": "left", "baseline": "middle", "fontSize": 115},
          "encoding": {"text": {"field": "label"}, "color": {"value": "black"}}}
      ]
    }
  ],
  "config": {
    "font": "Liberation Serif",
    "view": {"stroke": "black", "strokeWidth": 3},
    "text": {"font": "Liberation Serif"},
    "axis": {
      "domain": false, "grid": false, "ticks": true, "tickSize": 14, "tickWidth": 3, "tickColor": "black",
      "labelFont": "Liberation Serif", "labelFontSize": 56, "labelColor": "black", "labelPadding": 19,
      "labelFlush": false, "labelOverlap": false,
      "titleFont": "Liberation Serif", "titleFontSize": 56, "titleFontWeight": "normal", "titleColor": "black", "titlePadding": 36
    }
  }
}
